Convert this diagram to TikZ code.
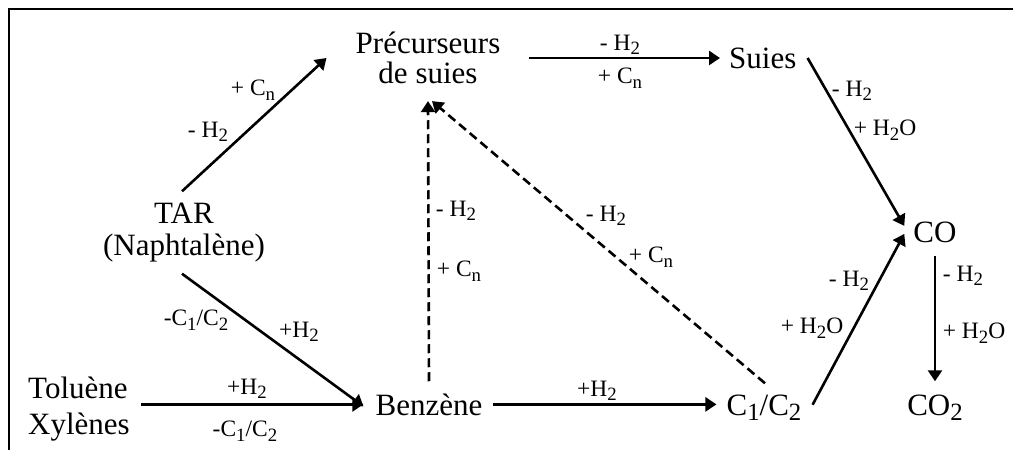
\documentclass[tikz,border=0pt]{standalone}
\usepackage{fontspec}
\setmainfont{Liberation Serif}
\usetikzlibrary{arrows.meta,calc}
\newcommand{\sbs}[1]{\raisebox{-0.42ex}{\scalebox{0.8}{#1}}}
\begin{document}
\begin{tikzpicture}[x=1pt,y=-1pt,
  main/.style={font=\fontsize{31}{30}\selectfont, inner sep=0pt},
  lab/.style={font=\fontsize{23.5}{25}\selectfont, inner sep=0pt},
  arr/.style={line width=2.6pt, -{Triangle[length=11pt,width=14pt]}},
  plainline/.style={line width=2.6pt},
  dsh/.style={arr, dash pattern=on 9pt off 5pt}]
\useasboundingbox (0,0) rectangle (1013,450);
\draw[plainline] (9,452) -- (9,9) -- (1015,9);
% main nodes
\node[main, align=center] (prec) at (428,58) {Précurseurs\\de suies};
\node[main, anchor=west] (suies) at (729,58) {Suies};
\node[main, align=center, font=\fontsize{31}{32}\selectfont] (tar) at (184,233) {TAR\\(Naphtalène)};
\node[main, align=left, anchor=west, font=\fontsize{31}{36}\selectfont] (tol) at (28,409) {Toluène\\Xylènes};
\node[main, anchor=base] (benz) at (429,415) {Benzène};
\node[main, anchor=base] (c12) at (764,415) {C\sbs{1}/C\sbs{2}};
\node[main, anchor=base] (co) at (935,242) {CO};
\node[main, anchor=base] (co2) at (935,415) {CO\sbs{2}};
% connectors
\draw[arr] ($(tar.north)+(-2,-12)$) -- ($(prec.west)+(-29,0)$);
\draw[arr] ($(prec.east)+(28,0)$) -- ($(suies.west)+(-9,0)$);
\draw[arr] ($(suies.east)+(11,0)$) -- ($(co.west)+(-9,-6)$);
\draw[arr] ($(c12.east)+(11,-3)$) -- ($(co.west)+(-9,2)$);
\draw[arr] ($(co.south)+(0,13)$) -- ($(co2.north)+(0,-13)$);
\draw[arr] ($(tar.south)+(-2,11)$) -- ($(benz.west)+(-12,2)$);
\draw[arr] (tol.east |- benz.west) ++(11,0) -- ($(benz.west)+(-12,0)$);
\draw[arr] ($(benz.east)+(10,0)$) -- ($(c12.west |- benz.east)+(-10,0)$);
\draw[dsh] ($(benz.north)+(0,-12)$) -- ($(prec.south)+(0,17)$);
\draw[dsh] ($(c12.north)+(1,-11)$) -- ($(prec.south)+(4,17)$);
% labels
\node[lab] (l1) at (253,90) {+ C\sbs{n}};
\node[lab] (l2) at (208,132) {- H\sbs{2}};
\node[lab] (l3) at (620,45) {- H\sbs{2}};
\node[lab] (l4) at (620,78) {+ C\sbs{n}};
\node[lab] (l5) at (852,91) {- H\sbs{2}};
\node[lab] (l6) at (885,130) {+ H\sbs{2}O};
\node[lab] (l7) at (849,281) {- H\sbs{2}};
\node[lab] (l8) at (812,328) {+ H\sbs{2}O};
\node[lab] (l9) at (963,276) {- H\sbs{2}};
\node[lab] (l10) at (974,333) {+ H\sbs{2}O};
\node[lab] (l11) at (196,320) {-C\sbs{1}/C\sbs{2}};
\node[lab] (l12) at (299,332) {+H\sbs{2}};
\node[lab] (l13) at (247,389) {+H\sbs{2}};
\node[lab] (l14) at (245,431) {-C\sbs{1}/C\sbs{2}};
\node[lab] (l15) at (597,391) {+H\sbs{2}};
\node[lab] (l16) at (456,211) {- H\sbs{2}};
\node[lab] (l17) at (459,271) {+ C\sbs{n}};
\node[lab] (l18) at (606,216) {- H\sbs{2}};
\node[lab] (l19) at (651,257) {+ C\sbs{n}};
\end{tikzpicture}
\end{document}
